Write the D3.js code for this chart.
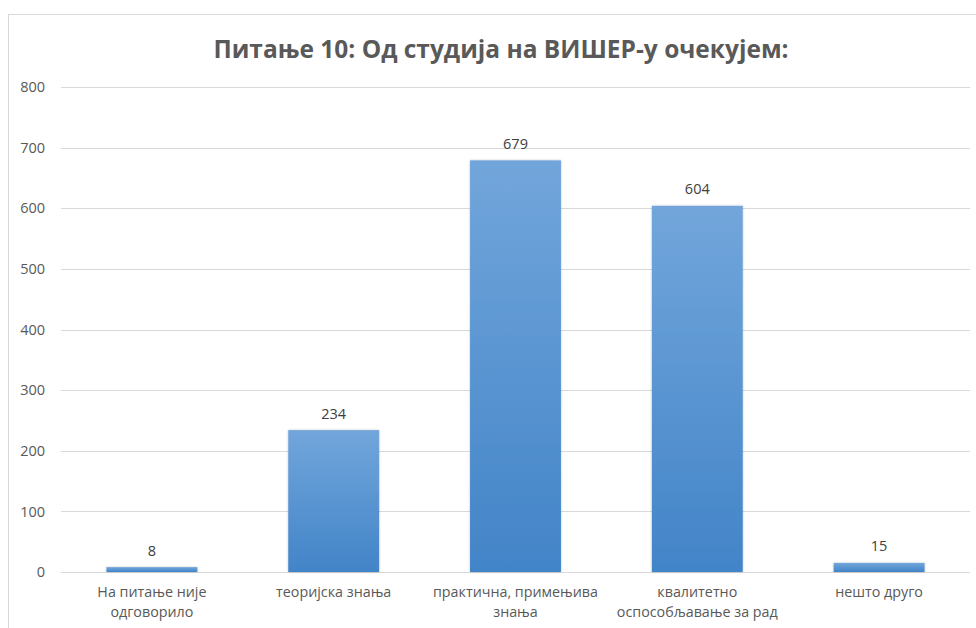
<!DOCTYPE html>
<html>
<head>
<meta charset="utf-8">
<script src="https://cdn.jsdelivr.net/npm/d3@7"></script>
<style>
  html, body { margin: 0; padding: 0; background: #ffffff; }
  #chart { width: 976px; height: 628px; }
</style>
</head>
<body>
<div id="chart"></div>
<script>
// Питање 10 - bar chart with gradient columns

var title = "Питање 10: Од студија на ВИШЕР-у очекујем:";

var categories = [
    ["На питање није", "одговорило"],
    ["теоријска знања"],
    ["практична, примењива", "знања"],
    ["квалитетно", "оспособљавање за рад"],
    ["нешто друго"]
];

var values = [8, 234, 679, 604, 15];

var yTicks = [0, 100, 200, 300, 400, 500, 600, 700, 800];

(function() {

    var width = 976;
    var height = 628;

    var margin = { top: 87, right: 6, bottom: 56, left: 61 };

    var svg = d3.select("#chart")
        .append("svg")
        .attr("width", width)
        .attr("height", height);

    var fontFamily = "'Open Sans', 'Noto Sans', sans-serif";

    // gradient for bars
    var defs = svg.append("defs");
    var grad = defs.append("linearGradient")
        .attr("id", "barGrad")
        .attr("x1", 0).attr("y1", 0)
        .attr("x2", 0).attr("y2", 1);
    grad.append("stop").attr("offset", "0%").attr("stop-color", "#72a6db");
    grad.append("stop").attr("offset", "100%").attr("stop-color", "#4284c8");

    var shadow = defs.append("filter")
        .attr("id", "barShadow")
        .attr("x", "-10%").attr("y", "-10%")
        .attr("width", "120%").attr("height", "120%");
    shadow.append("feDropShadow")
        .attr("dx", 0).attr("dy", 0)
        .attr("stdDeviation", 1.2)
        .attr("flood-color", "#000000")
        .attr("flood-opacity", 0.25);

    // chart border
    svg.append("rect")
        .attr("x", 8.5)
        .attr("y", 14.5)
        .attr("width", 990)
        .attr("height", 700)
        .attr("fill", "none")
        .attr("stroke", "#d9d9d9")
        .attr("stroke-width", 1);

    var xScale = d3.scaleBand()
        .domain(d3.range(values.length))
        .range([margin.left, width - margin.right])
        .paddingInner(0.5)
        .paddingOuter(0.25);

    var yScale = d3.scaleLinear()
        .domain([0, 800])
        .range([height - margin.bottom, margin.top]);

    // gridlines
    svg.selectAll(".grid")
        .data(yTicks)
        .enter()
        .append("line")
        .attr("x1", margin.left)
        .attr("x2", 970)
        .attr("y1", function(d) { return Math.round(yScale(d)) + 0.5; })
        .attr("y2", function(d) { return Math.round(yScale(d)) + 0.5; })
        .attr("stroke", "#d9d9d9")
        .attr("stroke-width", 1);

    // y axis labels
    var yAxis = d3.axisLeft(yScale)
        .tickValues(yTicks)
        .tickSize(0)
        .tickPadding(0);

    var yG = svg.append("g")
        .attr("transform", "translate(45,0)")
        .call(yAxis);
    yG.select(".domain").remove();
    yG.selectAll("text")
        .attr("fill", "#595959")
        .attr("font-size", "14.5px")
        .attr("font-family", fontFamily);

    // bars
    svg.selectAll(".bar")
        .data(values)
        .enter()
        .append("rect")
        .attr("class", "bar")
        .attr("x", function(d, i) { return xScale(i); })
        .attr("y", function(d) { return yScale(d); })
        .attr("width", xScale.bandwidth())
        .attr("height", function(d) { return yScale(0) - yScale(d); })
        .attr("fill", "url(#barGrad)")
        .attr("filter", "url(#barShadow)");

    // value labels
    svg.selectAll(".val")
        .data(values)
        .enter()
        .append("text")
        .attr("x", function(d, i) { return xScale(i) + xScale.bandwidth() / 2; })
        .attr("y", function(d) { return yScale(d) - 11.5; })
        .attr("text-anchor", "middle")
        .attr("fill", "#404040")
        .attr("font-size", "14.5px")
        .attr("font-family", fontFamily)
        .text(function(d) { return d; });

    // category labels
    var catG = svg.selectAll(".cat")
        .data(categories)
        .enter()
        .append("text")
        .attr("text-anchor", "middle")
        .attr("fill", "#595959")
        .attr("font-size", "14.3px")
        .attr("font-family", fontFamily);

    catG.each(function(lines, i) {
        var t = d3.select(this);
        lines.forEach(function(line, j) {
            t.append("tspan")
                .attr("x", xScale(i) + xScale.bandwidth() / 2)
                .attr("y", 597 + j * 20)
                .text(line);
        });
    });

    // title
    svg.append("text")
        .attr("x", 501)
        .attr("y", 58)
        .attr("text-anchor", "middle")
        .attr("fill", "#595959")
        .attr("font-size", "24.5px")
        .attr("font-weight", "bold")
        .attr("font-family", fontFamily)
        .text(title);

})();
</script>
</body>
</html>
